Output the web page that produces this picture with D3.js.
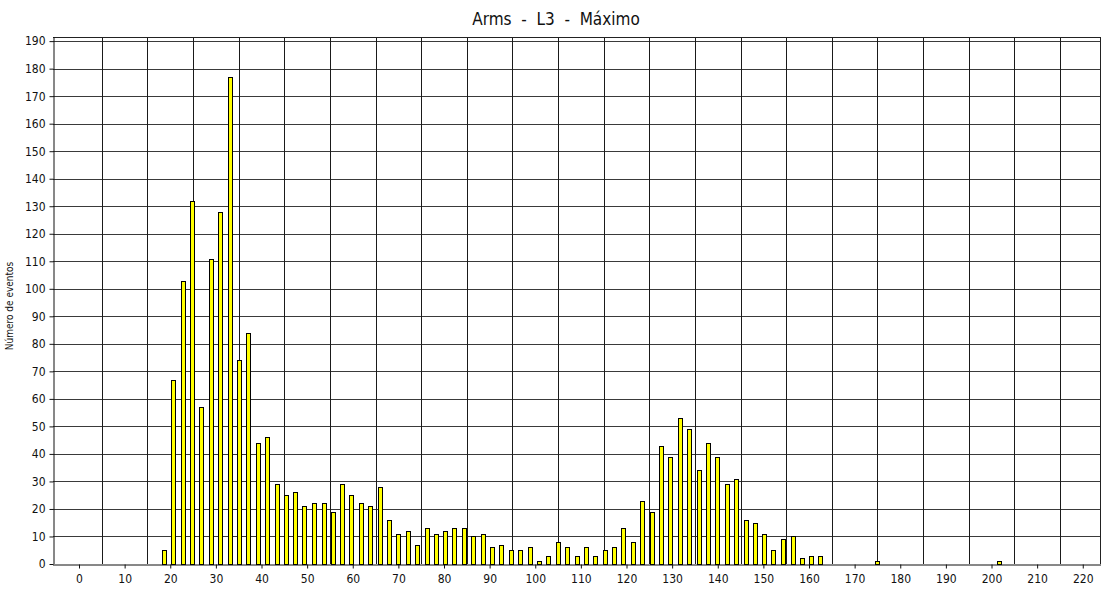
<!DOCTYPE html>
<html>
<head>
<meta charset="utf-8">
<script src="https://cdn.jsdelivr.net/npm/d3@7"></script>
<style>
  html, body { margin: 0; padding: 0; background: #fff; }
  svg { display: block; }
  text { font-family: "DejaVu Sans Condensed", "DejaVu Sans", sans-serif; fill: #111; }
</style>
</head>
<body>
<svg id="chart" width="1102" height="589"></svg>
<script>
// ---- data ----
const chartTitle = "Arms  -  L3  -  Máximo";
const yTitle = "Número de eventos";

// histogram bin centres (x value) of each non-empty bin
const binCenters = [
  18.6, 20.7, 22.7, 24.8, 26.8, 28.9, 30.9, 33.0, 35.0, 37.1,
  39.2, 41.2, 43.3, 45.3, 47.4, 49.4, 51.5, 53.6, 55.6, 57.7,
  59.7, 61.8, 63.8, 65.9, 67.9, 70.0, 72.1, 74.1, 76.2, 78.2,
  80.3, 82.3, 84.4, 86.4, 88.5, 90.6, 92.6, 94.7, 96.7, 98.8,
  100.8, 102.9, 104.9, 107.0, 109.1, 111.1, 113.2, 115.2, 117.3, 119.3,
  121.4, 123.5, 125.5, 127.6, 129.6, 131.7, 133.7, 135.8, 137.8, 139.9,
  142.0, 144.0, 146.1, 148.1, 150.2, 152.2, 154.3, 156.4, 158.4, 160.5,
  162.5, 174.9, 201.6
];
// number of events in each bin
const counts = [
  5, 67, 103, 132, 57, 111, 128, 177, 74, 84,
  44, 46, 29, 25, 26, 21, 22, 22, 19, 29,
  25, 22, 21, 28, 16, 11, 12, 7, 13, 11,
  12, 13, 13, 10, 11, 6, 7, 5, 5, 6,
  1, 3, 8, 6, 3, 6, 3, 5, 6, 13,
  8, 23, 19, 43, 39, 53, 49, 34, 44, 39,
  29, 31, 16, 15, 11, 5, 9, 10, 2, 3,
  3, 1, 1
];
const xTicks = [0, 10, 20, 30, 40, 50, 60, 70, 80, 90, 100, 110, 120, 130, 140, 150, 160, 170, 180, 190, 200, 210, 220];
const xGrid = [5, 15, 25, 35, 45, 55, 65, 75, 85, 95, 105, 115, 125, 135, 145, 155, 165, 175, 185, 195, 205, 215];
const yTicks = [0, 10, 20, 30, 40, 50, 60, 70, 80, 90, 100, 110, 120, 130, 140, 150, 160, 170, 180, 190];

// ---- layout ----
const L = 53, R = 1101, T = 37, B = 564;
const svg = d3.select("#chart");

const x = d3.scaleLinear().domain([-5.7, 224]).range([L, R]);
const y = d3.scaleLinear().domain([0, 191.5]).range([B, T]);
const px = v => Math.round(v) + 0.5;

// horizontal gridlines
svg.append("g").selectAll("line").data(yTicks.filter(d => d > 0)).join("line")
  .attr("x1", L).attr("x2", R)
  .attr("y1", d => px(y(d))).attr("y2", d => px(y(d)))
  .attr("stroke", "#3a3a3a").attr("stroke-width", 1);

// vertical gridlines
svg.append("g").selectAll("line").data(xGrid).join("line")
  .attr("y1", T).attr("y2", B)
  .attr("x1", d => px(x(d))).attr("x2", d => px(x(d)))
  .attr("stroke", "#1a1a1a").attr("stroke-width", 1);

// frame
svg.append("line").attr("x1", L).attr("x2", R).attr("y1", px(T)).attr("y2", px(T)).attr("stroke", "#222");
svg.append("line").attr("x1", R - 0.5).attr("x2", R - 0.5).attr("y1", T).attr("y2", B).attr("stroke", "#222");

// bars
const bw = 4;
svg.append("g").selectAll("rect").data(counts).join("rect")
  .attr("x", (d, i) => Math.round(x(binCenters[i]) - bw / 2) + 0.5)
  .attr("width", bw)
  .attr("y", d => Math.round(y(d)) + 0.5)
  .attr("height", d => Math.max(0, Math.round(y(0)) - Math.round(y(d))))
  .attr("fill", "#ffff00")
  .attr("stroke", "#000")
  .attr("stroke-width", 1);

// axes
const xAxis = d3.axisBottom(x).tickValues(xTicks).tickSize(4).tickSizeOuter(0).tickFormat(d3.format("d"));
const gx = svg.append("g").attr("transform", `translate(0,${px(B)})`).call(xAxis);
gx.select(".domain").attr("stroke", "#111").attr("d", `M${L},0.5H${R}`);
gx.selectAll(".tick line").attr("stroke", "#111");
gx.selectAll(".tick text").attr("font-size", 12).attr("dy", "0.95em").attr("fill", "#111")
  .style("font-family", '"DejaVu Sans Condensed", "DejaVu Sans", sans-serif');

const yAxis = d3.axisLeft(y).tickValues(yTicks).tickSize(4).tickSizeOuter(0).tickPadding(4).tickFormat(d3.format("d"));
const gy = svg.append("g").attr("transform", `translate(${px(L)},0)`).call(yAxis);
gy.select(".domain").attr("stroke", "#111").attr("d", `M0.5,${T}V${B}`);
gy.selectAll(".tick line").attr("stroke", "#111");
gy.selectAll(".tick text").attr("font-size", 12).attr("fill", "#111")
  .style("font-family", '"DejaVu Sans Condensed", "DejaVu Sans", sans-serif');

// title
svg.append("text")
  .attr("x", 556).attr("y", 25)
  .attr("text-anchor", "middle")
  .attr("font-size", 17)
  .style("white-space", "pre")
  .attr("xml:space", "preserve")
  .text(chartTitle);

// y-axis title
svg.append("text")
  .attr("transform", "translate(13,306) rotate(-90)")
  .attr("text-anchor", "middle")
  .attr("font-size", 10)
  .text(yTitle);
</script>
</body>
</html>
